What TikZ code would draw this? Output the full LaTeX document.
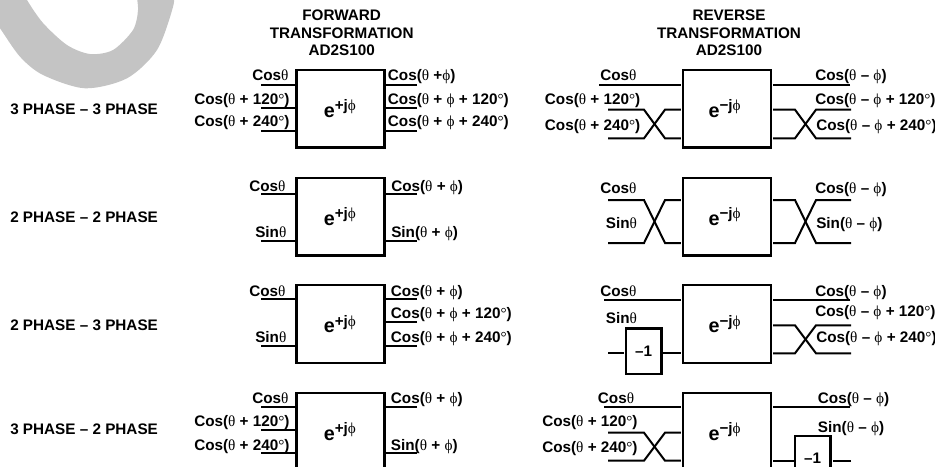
\documentclass[tikz,border=0pt]{standalone}
\usepackage{fontspec}
\setmainfont{Liberation Sans}
\newfontfamily\symf{Liberation Serif}
\newcommand{\thta}{{\symf\mdseries θ}}
\newcommand{\phy}{{\symf\mdseries ϕ}}
\newcommand{\dg}{{\symf\mdseries °}}
\newcounter{labn}
\newcommand{\lab}[3]{\stepcounter{labn}\node[lbl] (t\thelabn) at (#1,#2) {#3};}
\newcommand{\wireL}[4]{\coordinate (#1) at (#2,#3); \draw[wire] (#1) -- (#1 -| #4.west);}
\newcommand{\wireR}[4]{\coordinate (#1) at (#2,#3); \draw[wire] (#1) -- (#1 -| #4.east);}
\newcommand{\crossL}[4]{% name, box, ytop, ybot
  \coordinate (#1a) at (608,#3); \coordinate (#1b) at (608,#4);
  \draw[wire] (#1a) -- (644,#3) -- (665,#4) -- (#1b -| #2.west);
  \draw[wire] (#1b) -- (644,#4) -- (665,#3) -- (#1a -| #2.west);}
\newcommand{\crossR}[4]{%
  \coordinate (#1a) at (851,#3); \coordinate (#1b) at (851,#4);
  \draw[wire] (#1a) -- (816,#3) -- (795,#4) -- (#1b -| #2.east);
  \draw[wire] (#1b) -- (816,#4) -- (795,#3) -- (#1a -| #2.east);}
\newcommand{\epl}{{\fontsize{14.8pt}{15pt}\selectfont\bfseries e\raisebox{5pt}{\fontsize{11.4pt}{12pt}\selectfont +j\phy}\kern1pt}}
\newcommand{\emn}{{\fontsize{14.8pt}{15pt}\selectfont\bfseries e\raisebox{5pt}{\fontsize{11.4pt}{12pt}\selectfont −j\phy}\kern3.5pt}}
\tikzset{
  lbl/.style={anchor=base west,inner sep=0pt,font=\fontsize{11.45pt}{13pt}\selectfont\bfseries},
  ttl/.style={anchor=base,inner sep=0pt,font=\fontsize{11.45pt}{13pt}\selectfont\bfseries},
  wire/.style={line width=1.5pt,shorten >=0.6pt},
  tbox/.style={draw,line width=1.75pt,minimum width=66pt,minimum height=58.3pt,inner sep=0pt,outer sep=0pt},
  nbox/.style={draw,line width=1.75pt,minimum width=26.5pt,minimum height=34pt,inner sep=0pt,outer sep=0pt,font=\fontsize{11.45pt}{13pt}\selectfont\bfseries},
}
\begin{document}
\begin{tikzpicture}[x=0.75pt,y=-0.75pt]
\useasboundingbox (0,0) rectangle (935,467);
\clip (0,0) rectangle (935,467);
% grey swoosh
\fill[black!23,even odd rule] plot[smooth] coordinates {(-10,15) (0,28.3) (20,56.7) (43,75) (85,88.3) (127,78.3) (157,50) (173,7) (174,-10)} -- (-10,-10) -- cycle
  plot[smooth] coordinates {(24,-8) (27,0) (43,23) (67,45) (90,54) (113,50) (133,30) (138,10) (136,-8)} -- cycle;
% titles
\node[ttl] (h1a) at (341.7,21) {FORWARD};
\node[ttl] (h1b) at (341.7,38.3) {TRANSFORMATION};
\node[ttl] (h1c) at (341.7,55.3) {AD2S100};
\node[ttl] (h2a) at (729,21) {REVERSE};
\node[ttl] (h2b) at (729,38.3) {TRANSFORMATION};
\node[ttl] (h2c) at (729,55.3) {AD2S100};
% row names
\lab{10}{114.2}{3 PHASE – 3 PHASE}
\lab{10}{222.4}{2 PHASE – 2 PHASE}
\lab{10}{330.4}{2 PHASE – 3 PHASE}
\lab{10}{434.4}{3 PHASE – 2 PHASE}
% boxes
\node[tbox] (f1) at (340.5,108.7) {\epl};
\node[tbox] (f2) at (340.5,216.7) {\epl};
\node[tbox] (f3) at (340.5,324) {\epl};
\node[tbox] (f4) at (340.5,431.7) {\epl};
\node[tbox] (r1) at (727,108.7) {\emn};
\node[tbox] (r2) at (727,216.7) {\emn};
\node[tbox] (r3) at (727,324) {\emn};
\node[tbox] (r4) at (727,431.7) {\emn};
\node[nbox] (n3) at (643.7,351) {–1};
\node[nbox] (n4) at (812.7,458.5) {–1};
% forward wires
\wireL{a1}{261}{84.7}{f1} \wireL{a2}{261}{107.7}{f1} \wireL{a3}{261}{131}{f1}
\wireR{a4}{417}{84.7}{f1} \wireR{a5}{417}{107.7}{f1} \wireR{a6}{417}{131}{f1}
\wireL{b1}{261}{194.3}{f2} \wireL{b2}{261}{240.5}{f2}
\wireR{b3}{417}{194.3}{f2} \wireR{b4}{417}{240.5}{f2}
\wireL{c1}{261}{299.3}{f3} \wireL{c2}{261}{345.7}{f3}
\wireR{c3}{417}{299.3}{f3} \wireR{c4}{417}{322.3}{f3} \wireR{c5}{417}{345.7}{f3}
\wireL{d1}{261}{407}{f4} \wireL{d2}{261}{430.3}{f4} \wireL{d3}{261}{453.3}{f4}
\wireR{d4}{417}{407}{f4} \wireR{d5}{417}{453.3}{f4}
% reverse wires
\begin{scope}[wire/.append style={shorten >=1.6pt}]
\wireL{e1}{599}{84.7}{r1} \wireR{e2}{850}{84.7}{r1}
\crossL{e3}{r1}{109.7}{138.3} \crossR{e4}{r1}{109.7}{138.3}
\crossL{g1}{r2}{200}{243} \crossR{g2}{r2}{200}{243}
\wireL{h1}{604}{299.7}{r3} \wireR{h2}{850}{299.7}{r3}
\crossR{h3}{r3}{325.3}{353.3}
\coordinate (h4) at (608,353.3);
\draw[wire] (h4) -- (h4 -| n3.west);
\draw[wire] (n3.east |- h4) -- (h4 -| r3.west);
\wireL{k1}{604}{407}{r4} \wireR{k2}{850}{407}{r4}
\crossL{k3}{r4}{432.7}{460.7}
\coordinate (k4) at (851,460.7);
\draw[wire] (k4) -- (k4 -| n4.east);
\draw[wire] (n4.west |- k4) -- (k4 -| r4.east);
\end{scope}
% forward labels
\lab{252}{80}{Cos\thta}
\lab{194}{104.5}{Cos(\thta\ + 120\dg)}
\lab{194}{126.7}{Cos(\thta\ + 240\dg)}
\lab{387.7}{80}{Cos(\thta\ +\phy)}
\lab{387.7}{104.5}{Cos(\thta\ + \phy\ + 120\dg)}
\lab{387.7}{126.7}{Cos(\thta\ + \phy\ + 240\dg)}
\lab{249}{191}{Cos\thta}
\lab{255}{237.7}{Sin\thta}
\lab{391}{191}{Cos(\thta\ + \phy)}
\lab{391}{237.7}{Sin(\thta\ + \phy)}
\lab{249}{296}{Cos\thta}
\lab{255}{342}{Sin\thta}
\lab{390.7}{296}{Cos(\thta\ + \phy)}
\lab{390.7}{318.7}{Cos(\thta\ + \phy\ + 120\dg)}
\lab{390.7}{342}{Cos(\thta\ + \phy\ + 240\dg)}
\lab{252}{403}{Cos\thta}
\lab{194}{426.7}{Cos(\thta\ + 120\dg)}
\lab{194}{450}{Cos(\thta\ + 240\dg)}
\lab{390.7}{403}{Cos(\thta\ + \phy)}
\lab{390.7}{450}{Sin(\thta\ + \phy)}
% reverse labels
\lab{600}{80}{Cos\thta}
\lab{544.7}{104.3}{Cos(\thta\ + 120\dg)}
\lab{544.7}{130}{Cos(\thta\ + 240\dg)}
\lab{815}{80}{Cos(\thta\ – \phy)}
\lab{815}{104.3}{Cos(\thta\ – \phy\ + 120\dg)}
\lab{816}{130}{Cos(\thta\ – \phy\ + 240\dg)}
\lab{600}{193}{Cos\thta}
\lab{605.7}{228}{Sin\thta}
\lab{815}{193}{Cos(\thta\ – \phy)}
\lab{816}{228}{Sin(\thta\ – \phy)}
\lab{600}{296}{Cos\thta}
\lab{605.7}{323.3}{Sin\thta}
\lab{815}{296}{Cos(\thta\ – \phy)}
\lab{815}{316.7}{Cos(\thta\ – \phy\ + 120\dg)}
\lab{816}{342}{Cos(\thta\ – \phy\ + 240\dg)}
\lab{597.7}{403}{Cos\thta}
\lab{542}{426.7}{Cos(\thta\ + 120\dg)}
\lab{542}{452}{Cos(\thta\ + 240\dg)}
\lab{817.7}{403}{Cos(\thta\ – \phy)}
\lab{817.7}{432.3}{Sin(\thta\ – \phy)}
\end{tikzpicture}
\end{document}
